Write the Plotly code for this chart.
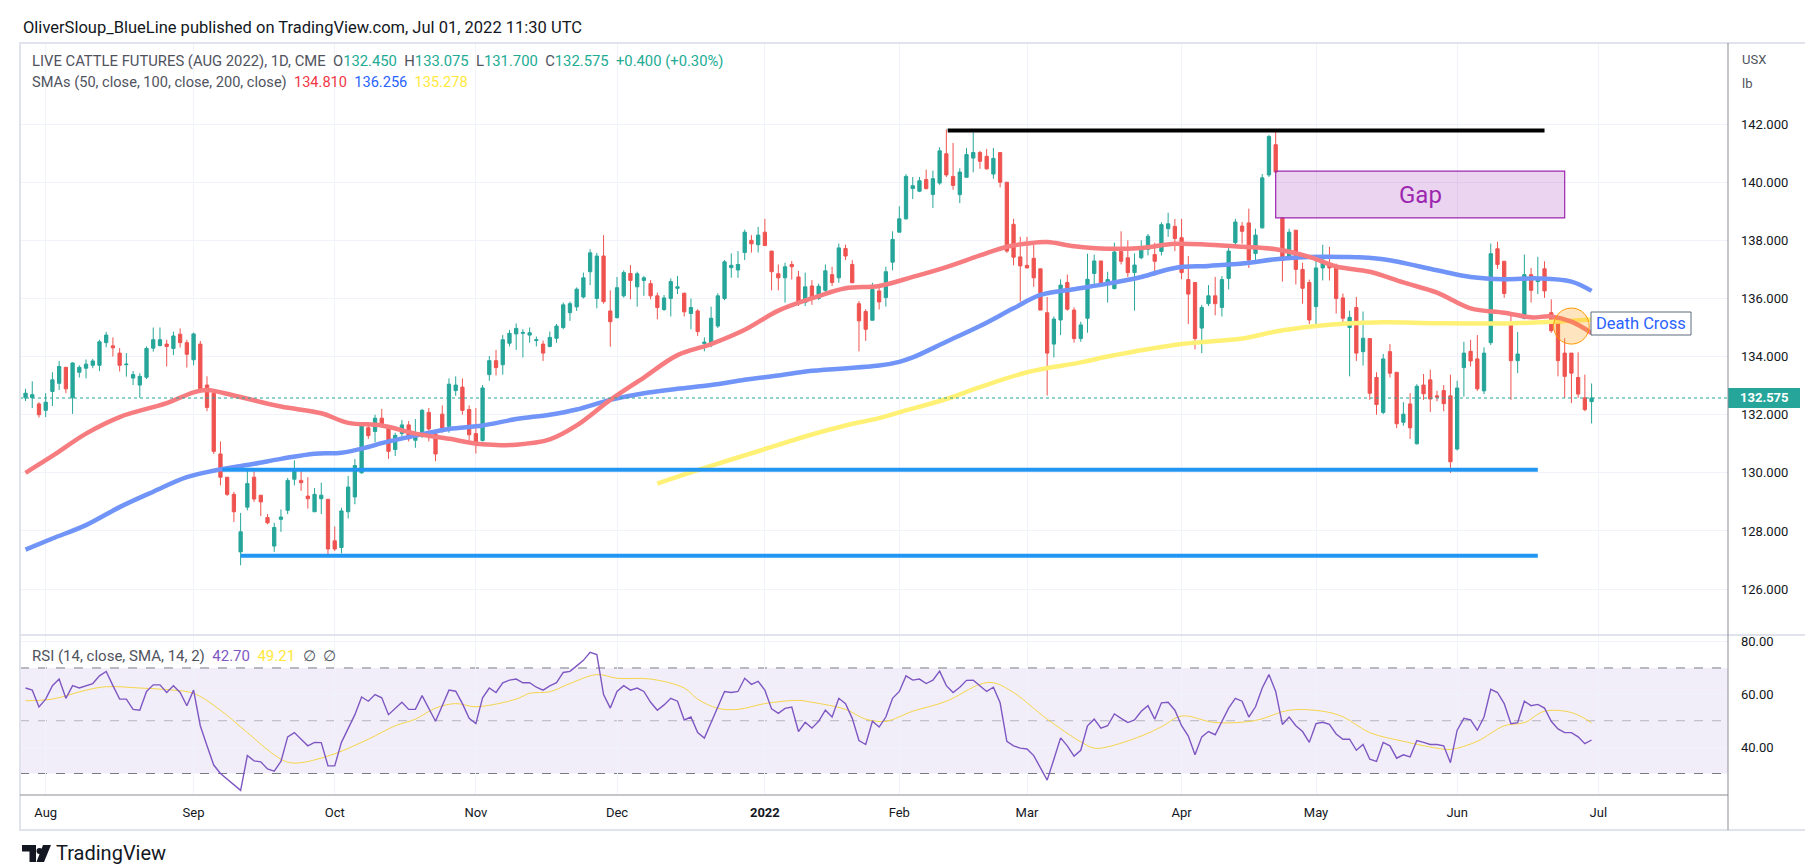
import pandas as pd
import plotly.graph_objects as go
from plotly.subplots import make_subplots

# ---------------- data ----------------
holidays = ["2021-09-06", "2021-11-25", "2021-12-24", "2022-01-17",
            "2022-02-21", "2022-04-15", "2022-05-30", "2022-06-20"]
calendar = pd.bdate_range("2021-07-28", "2022-07-01", freq="C", holidays=holidays)

opens = [132.58,132.58,132.37,132.15,132.80,133.08,133.63,132.58,133.46,133.60,
133.70,133.70,134.48,134.37,134.12,133.72,133.26,133.02,133.29,134.29,
134.38,134.43,134.28,134.77,134.48,133.89,134.43,133.02,132.74,130.65,
129.85,129.26,127.28,128.82,129.85,129.23,128.46,127.48,128.40,128.71,
129.78,129.74,129.20,128.66,129.11,129.09,127.66,127.43,128.66,129.17,
130.00,131.55,131.42,131.88,131.57,130.80,131.35,131.65,131.12,131.28,
132.08,131.34,132.02,131.60,132.83,132.95,132.18,131.35,131.11,133.38,
133.86,133.72,134.46,134.78,134.80,134.74,134.55,134.43,134.35,134.63,
135.00,135.51,135.71,136.05,136.92,136.00,137.46,135.57,135.34,136.09,
136.86,136.40,136.62,136.51,136.09,135.62,136.00,136.35,136.18,135.48,
135.57,134.45,134.43,135.05,136.00,137.06,136.98,137.58,138.00,137.85,
138.28,137.63,136.85,136.71,137.17,136.74,135.86,136.43,136.00,136.28,
136.82,136.71,137.72,137.17,135.82,135.55,135.25,136.26,136.03,137.25,
138.28,138.74,139.78,139.69,140.09,139.58,139.97,140.98,140.20,139.57,
140.17,140.83,141.02,140.89,140.28,141.02,140.00,138.55,137.43,137.14,
137.38,137.02,135.51,134.43,135.26,136.55,135.60,134.62,135.32,136.86,
137.29,136.54,136.34,137.62,137.40,136.89,137.40,137.69,137.51,137.62,
138.40,138.48,138.09,136.65,136.55,134.98,135.82,136.09,135.69,136.69,
137.92,138.49,138.60,137.55,138.43,140.25,141.29,138.77,137.46,138.35,
137.00,136.55,135.72,137.05,137.17,137.12,136.02,135.00,135.69,134.17,
134.62,133.28,132.08,134.17,133.46,131.74,132.37,131.00,133.02,133.20,
132.65,132.83,132.65,130.82,133.62,134.18,133.92,132.82,134.48,137.71,
137.28,135.17,133.86,135.31,136.82,136.58,137.02,135.51,135.38,134.12,
134.12,133.28,132.58,132.45]

highs = [132.89,133.15,132.43,132.74,133.46,133.85,133.65,133.80,133.70,133.90,
133.92,134.58,134.85,134.66,134.29,134.12,133.50,133.43,134.35,135.00,
135.00,134.58,134.86,134.97,134.58,134.82,134.54,133.32,132.82,131.08,
129.85,129.35,128.62,130.15,130.05,129.23,128.58,128.28,128.74,129.82,
130.43,130.09,129.85,129.48,129.66,129.09,128.15,128.80,129.89,130.48,
131.71,131.74,132.00,132.20,131.57,131.38,131.82,131.78,131.85,132.20,
132.23,131.46,132.32,133.25,133.32,133.25,132.32,132.23,133.02,134.02,
134.23,134.74,134.92,135.14,134.94,135.00,134.69,134.55,134.86,135.12,
135.86,135.89,136.38,136.89,137.69,137.57,138.18,136.28,136.74,136.97,
137.15,136.92,136.77,136.63,136.20,136.12,136.69,136.77,136.20,136.00,
135.63,134.66,135.72,136.18,137.32,137.55,137.63,138.37,138.18,138.46,
138.74,137.63,137.17,137.23,137.29,136.95,136.89,136.63,136.51,137.17,
137.09,137.89,137.85,137.32,135.91,135.63,136.54,136.43,137.09,138.31,
139.17,140.28,140.18,140.18,140.43,140.40,141.20,141.82,141.35,140.48,
141.18,141.72,141.08,141.14,141.18,141.02,140.00,138.74,138.12,138.12,
137.85,137.02,136.05,135.38,136.66,136.82,135.69,135.20,137.54,137.51,
137.29,136.92,137.92,138.31,138.00,137.55,138.00,138.22,137.92,138.62,
138.95,138.74,138.74,137.46,136.55,135.78,136.46,136.74,136.77,137.85,
138.74,138.63,139.09,138.40,140.28,141.63,141.74,138.77,138.40,138.35,
137.23,136.65,137.35,137.85,137.78,137.20,136.17,135.58,136.05,135.55,
134.62,133.46,134.09,134.43,133.46,132.43,132.74,133.05,133.40,133.55,
132.82,133.02,133.38,133.17,134.51,134.58,134.74,134.32,137.89,137.95,
137.28,135.43,134.85,137.51,137.05,137.43,137.28,135.97,135.38,134.63,
134.12,134.15,133.38,133.075]

lows = [132.47,132.23,131.90,131.92,132.30,132.85,132.74,132.03,133.28,133.25,
133.60,133.50,134.32,134.00,133.49,133.31,133.02,132.58,133.23,134.17,
134.35,133.66,134.05,134.31,133.62,133.70,132.85,132.12,130.65,129.57,
129.20,128.31,126.82,128.71,129.00,128.51,128.23,127.28,127.97,128.58,
129.57,129.38,128.77,128.66,128.58,127.20,127.31,127.23,128.43,128.92,
129.97,131.17,131.05,131.55,130.48,130.58,131.17,131.08,130.86,131.20,
131.08,130.40,131.38,131.38,132.65,132.00,131.11,130.66,131.08,133.17,
133.35,133.38,134.35,134.23,133.97,134.48,134.35,133.85,134.32,134.48,
134.94,135.23,135.57,136.00,136.46,135.66,135.82,134.34,135.31,136.03,
135.97,135.72,136.09,135.97,135.28,135.57,135.38,136.15,135.38,134.94,
134.71,134.18,134.32,134.98,135.94,136.71,136.71,137.32,137.58,137.58,
137.82,136.28,136.28,135.86,136.65,135.74,135.74,135.78,135.95,136.20,
136.43,136.54,137.32,136.54,134.18,134.54,135.25,135.62,135.72,136.97,
138.28,138.71,139.42,139.66,139.75,139.11,139.91,140.18,139.74,139.28,
140.17,140.34,140.46,140.43,140.12,139.82,137.57,137.14,135.89,137.05,
136.40,135.60,132.66,133.97,134.74,135.58,134.48,134.51,134.82,136.43,
136.43,135.86,136.31,137.17,136.74,135.58,137.35,137.48,136.78,137.48,
138.12,137.63,136.66,135.12,134.25,134.12,135.74,135.42,135.38,136.31,
137.82,137.88,137.05,137.32,138.40,140.18,140.31,136.58,137.32,136.48,
135.82,135.12,135.05,136.62,136.62,135.48,135.09,133.32,133.85,133.69,
132.51,132.00,132.02,133.28,131.54,131.62,131.17,130.97,132.51,132.09,
132.46,132.12,130.00,130.77,132.62,133.66,132.82,132.71,134.40,137.02,
136.02,132.51,133.43,135.28,135.86,136.15,136.02,134.82,133.32,132.58,
132.40,132.58,132.12,131.70]

closes = [132.74,132.69,132.00,132.43,133.20,133.66,132.89,133.78,133.63,133.74,
133.85,134.51,134.74,134.30,133.70,133.74,133.38,133.32,134.28,134.58,
134.58,134.35,134.71,134.48,134.08,134.78,132.89,132.25,130.74,129.85,
129.26,128.66,127.97,129.63,129.10,129.00,128.28,128.12,128.48,129.74,
130.09,129.66,129.11,129.26,129.23,127.38,127.38,128.69,129.51,130.25,
131.66,131.28,131.88,131.69,130.74,131.29,131.65,131.17,131.22,132.15,
131.51,130.65,131.54,133.05,133.02,132.15,131.31,130.97,132.92,133.86,
133.62,134.58,134.80,134.97,134.83,134.82,134.58,134.12,134.66,135.05,
135.78,135.82,136.32,136.71,137.57,137.46,135.89,135.20,136.37,136.89,
136.62,136.85,136.71,136.09,135.69,136.02,136.58,136.40,135.54,135.69,
134.86,134.50,135.32,136.09,137.26,137.14,137.17,138.28,137.88,138.18,
137.82,136.92,136.71,137.09,137.09,135.82,136.40,136.00,136.42,136.95,
136.55,137.74,137.46,136.54,135.23,134.94,136.31,135.88,136.92,138.03,
138.74,140.20,139.88,140.05,139.78,140.12,141.08,140.25,139.89,140.35,
140.95,141.02,140.72,140.46,140.82,140.00,137.63,137.42,137.12,137.05,
136.71,135.60,134.12,135.29,136.46,135.63,134.62,135.09,136.66,137.29,
136.46,136.65,137.60,137.28,136.89,137.15,137.71,138.14,137.28,138.54,
138.57,138.06,136.89,136.15,134.62,135.69,136.09,135.82,136.65,137.63,
138.63,138.31,137.32,138.18,140.15,141.57,140.35,137.31,138.28,137.00,
136.35,135.26,137.05,137.32,137.05,136.00,135.32,135.35,134.12,134.63,
132.74,132.35,133.92,133.43,131.69,132.02,131.55,132.98,132.72,132.54,
132.60,132.38,130.38,132.92,134.12,133.85,132.89,134.12,137.54,137.17,
136.17,133.86,134.09,136.82,136.28,136.63,136.26,134.89,133.86,133.32,
133.43,132.71,132.175,132.575]

rsi = [62.4,61.6,55.2,58.2,63.3,65.8,58.5,63.3,62.4,63.3,
64.1,67.0,68.7,63.3,58.2,58.2,54.3,54.0,61.1,63.6,
63.6,60.7,63.3,60.7,55.7,61.6,48.1,40.5,33.2,30.0,
27.8,25.8,23.6,36.8,34.8,34.4,31.7,30.9,34.6,43.9,
45.5,43.0,40.5,41.8,41.7,32.9,32.9,41.8,47.2,52.3,
59.0,57.4,59.9,58.7,52.3,54.8,57.0,54.3,54.3,59.5,
54.8,49.8,55.7,61.6,61.2,56.5,50.9,48.9,58.7,62.4,
60.7,64.4,65.4,65.8,64.4,64.4,62.7,61.6,63.2,
64.4,68.3,68.7,70.8,72.9,75.9,75.1,59.9,54.8,61.1,
63.3,61.6,62.4,61.1,57.0,54.0,56.0,58.5,57.4,50.3,
51.4,45.5,43.4,49.3,55.2,61.1,60.7,61.1,66.1,63.8,
64.9,61.6,54.5,52.8,54.7,55.2,45.9,49.4,47.2,
49.8,54.0,51.4,58.5,56.5,50.9,42.5,41.0,49.8,47.6,
51.4,58.5,61.1,67.0,65.4,65.8,64.1,65.4,68.8,63.3,
60.7,62.7,65.3,65.4,63.3,61.1,62.7,56.8,42.2,40.5,
39.6,39.3,36.8,32.1,27.5,35.4,43.5,40.5,36.6,
38.8,48.1,50.6,47.2,48.1,52.6,50.9,49.3,50.3,53.6,
55.7,50.6,56.8,57.0,54.0,48.1,44.2,37.1,43.9,45.9,
44.7,49.8,54.8,58.5,57.4,51.4,55.3,62.4,67.5,61.1,
48.6,51.4,48.1,45.9,41.8,48.9,49.4,48.6,45.0,
43.0,43.0,38.8,41.0,35.4,34.6,41.8,40.5,35.8,37.1,
36.3,42.5,41.8,41.0,41.0,40.5,34.1,46.4,50.9,50.3,
46.4,51.4,61.9,60.7,56.5,48.9,49.3,57.4,55.7,56.2,
54.8,49.8,46.9,45.5,45.5,43.9,41.3,42.7]

# moving averages sampled at bar numbers (bar 0 = first candle)
sma50_bar = [0,4,9,14,21,25,27,31,38,44,48,53,58,63,68,73,78,82,87,92,97,102,107,112,118,
             122,127,132,137,142,146,149,152,156,161,166,171,176,181,186,191,195,200,205,
             210,215,220,224,227,230,233]
sma50_val = [130.0,130.58,131.35,131.92,132.4,132.77,132.85,132.66,132.28,132.05,131.72,131.63,
             131.35,131.17,130.98,130.97,131.15,131.63,132.51,133.28,134.05,134.43,134.92,135.58,
             136.08,136.35,136.43,136.74,137.08,137.48,137.78,137.89,137.94,137.8,137.71,137.74,
             137.88,137.85,137.78,137.69,137.43,137.1,136.92,136.55,136.2,135.66,135.51,135.35,
             135.38,135.2,134.81]
sma100_bar = [0,4,9,14,19,24,29,34,38,43,47,51,53,58,63,68,73,78,82,87,92,97,102,107,112,117,
              127,130,132,137,142,147,151,156,161,166,171,176,181,186,191,196,202,210,215,220,
              225,230,233]
sma100_val = [127.36,127.74,128.2,128.82,129.35,129.85,130.12,130.31,130.48,130.66,130.69,130.89,
              131.02,131.28,131.51,131.63,131.85,132.0,132.18,132.51,132.74,132.89,133.02,133.2,
              133.35,133.51,133.69,133.82,133.97,134.51,135.05,135.66,136.12,136.32,136.51,136.74,
              137.05,137.12,137.2,137.35,137.43,137.43,137.35,136.97,136.74,136.66,136.69,136.58,
              136.26]
sma200_bar = [94,100,110,117,122,127,130,137,142,149,157,161,172,181,186,192,196,202,210,220,227,233]
sma200_val = [129.63,130.09,130.82,131.32,131.63,131.88,132.08,132.54,132.95,133.46,133.8,134.0,
              134.43,134.62,134.86,135.05,135.13,135.18,135.15,135.14,135.2,135.278]
rsi_ma_bar = [0,4,9,12,17,22,25,29,33,37,39,41,46,51,55,58,61,64,67,73,75,78,81,85,88,93,98,100,
              103,106,110,115,117,122,125,128,132,137,142,144,147,152,157,159,161,166,169,172,
              177,183,188,193,196,200,205,210,212,216,220,223,226,230,233]
rsi_ma_val = [57.6,58.2,61.6,62.9,62.4,61.6,60.4,54.0,45.5,37.1,34.3,34.1,37.5,43.0,48.1,50.6,
              54.8,56.5,55.3,58.2,60.4,61.0,64.1,67.5,66.1,65.8,62.4,58.2,54.7,54.3,56.5,57.7,
              57.0,54.3,50.6,49.8,53.6,57.4,63.8,64.4,60.7,50.6,42.0,39.6,40.1,44.2,47.7,51.8,
              49.3,50.1,54.0,53.6,51.5,45.5,42.2,39.6,39.1,42.2,48.1,49.3,53.6,53.1,49.21]

# drawings on the chart (bar numbers / prices)
resistance = dict(bar0=137.2, bar1=226.0, price=141.78)
support_hi = dict(bar0=29.3, bar1=225.0, price=130.11)
support_lo = dict(bar0=32.0, bar1=225.0, price=127.15)
gap_zone = dict(bar0=186.0, bar1=229.0, low=138.77, high=140.38)
death_cross = dict(bar=230.0, price=135.05)
last_price = 132.575

price_ticks = [126, 128, 130, 132, 134, 136, 138, 140, 142]
rsi_ticks = [40, 60, 80]

# ---------------- figure ----------------
n = len(closes)
bars = list(range(n))
dates = calendar[:n]
tick_bars, tick_text = [], []
for k in range(1, len(calendar)):
    if calendar[k].month != calendar[k - 1].month:
        tick_bars.append(k)
        lab = calendar[k].strftime("%b")
        if calendar[k].month == 1:
            lab = "<b>%d</b>" % calendar[k].year
        tick_text.append(lab)

W, H = 1813, 866
L, R, T, B = 12, 1720, 35, 787
SPLIT = 627


def PX(px):
    return (px - L) / (R - L)


def PY(py):
    return (B - py) / (B - T)


fig = make_subplots(rows=2, cols=1, shared_xaxes=True, vertical_spacing=0)

fig.add_trace(go.Scatter(x=sma200_bar, y=sma200_val, mode="lines", line=dict(color="#fff176", width=4.5, shape="spline"), hoverinfo="skip"), row=1, col=1)
fig.add_trace(go.Scatter(x=sma100_bar, y=sma100_val, mode="lines", line=dict(color="#7094f7", width=4.5, shape="spline"), hoverinfo="skip"), row=1, col=1)
fig.add_trace(go.Scatter(x=sma50_bar, y=sma50_val, mode="lines", line=dict(color="#f77c80", width=4.5, shape="spline"), hoverinfo="skip"), row=1, col=1)

fig.add_trace(go.Candlestick(
    x=bars, open=opens, high=highs, low=lows, close=closes,
    increasing=dict(line=dict(color="#26a69a", width=1), fillcolor="#26a69a"),
    decreasing=dict(line=dict(color="#ef5350", width=1), fillcolor="#ef5350"),
    whiskerwidth=0, hoverinfo="skip"), row=1, col=1)

fig.add_trace(go.Scatter(x=rsi_ma_bar, y=rsi_ma_val, mode="lines", line=dict(color="#f5d54a", width=1, shape="spline"), hoverinfo="skip"), row=2, col=1)
fig.add_trace(go.Scatter(x=bars, y=rsi, mode="lines", line=dict(color="#7e57c2", width=1.4), hoverinfo="skip"), row=2, col=1)

xr = [(L - 17.54) / 6.7212, (R - 17.54) / 6.7212]
grid = "#f0f3fa"
font_family = "Roboto"

fig.update_layout(
    width=W, height=H, autosize=False,
    margin=dict(l=L, r=W - R, t=T, b=H - B, pad=0),
    paper_bgcolor="white", plot_bgcolor="white",
    showlegend=False, hovermode=False, dragmode=False,
    font=dict(family=font_family, color="#131722", size=13),
)
dom_split = PY(SPLIT)
fig.update_layout(
    xaxis=dict(range=xr, tickvals=tick_bars, showticklabels=False, showgrid=True, gridcolor=grid,
               zeroline=False, rangeslider=dict(visible=False), fixedrange=True),
    xaxis2=dict(range=xr, tickvals=tick_bars, ticktext=tick_text, showgrid=True, gridcolor=grid,
                zeroline=False, showline=False, ticks="", ticklabelstandoff=8,
                tickfont=dict(size=13, color="#131722"), fixedrange=True),
    yaxis=dict(domain=[dom_split, 1], side="right", range=[124.42, 144.79], tickvals=price_ticks,
               tickformat=".3f", showgrid=True, gridcolor=grid, zeroline=False, showline=False,
               ticks="", ticklabelstandoff=12, tickfont=dict(size=13, color="#131722"), fixedrange=True),
    yaxis2=dict(domain=[0, dom_split], side="right", range=[21.85, 82.5], tickvals=rsi_ticks,
                tickformat=".2f", showgrid=True, gridcolor=grid, zeroline=False, showline=False,
                ticks="", ticklabelstandoff=12, tickfont=dict(size=13, color="#131722"), fixedrange=True),
)

shapes = []
# RSI band and levels
shapes.append(dict(type="rect", xref="paper", yref="y2", x0=0, x1=1, y0=30, y1=70,
                   fillcolor="rgba(126,87,194,0.1)", line=dict(width=0), layer="below"))
for lvl, col in [(70, "#787b86"), (50, "rgba(120,123,134,0.5)"), (30, "#787b86")]:
    shapes.append(dict(type="line", xref="paper", yref="y2", x0=0, x1=1, y0=lvl, y1=lvl,
                       line=dict(color=col, width=1, dash="dash"), layer="below"))
# last price dotted line
shapes.append(dict(type="line", xref="paper", yref="y", x0=0, x1=1, y0=last_price, y1=last_price,
                   line=dict(color="#26a69a", width=1, dash="dot")))
# drawings
for ln, col in [(resistance, "#000000"), (support_hi, "#2196f3"), (support_lo, "#2196f3")]:
    shapes.append(dict(type="line", xref="x", yref="y", x0=ln["bar0"], x1=ln["bar1"],
                       y0=ln["price"], y1=ln["price"], line=dict(color=col, width=4)))
shapes.append(dict(type="rect", xref="x", yref="y", x0=gap_zone["bar0"], x1=gap_zone["bar1"],
                   y0=gap_zone["low"], y1=gap_zone["high"], fillcolor="rgba(156,39,176,0.2)",
                   line=dict(color="#9c27b0", width=1.2)))
shapes.append(dict(type="circle", xref="x", yref="y",
                   x0=death_cross["bar"] - 2.65, x1=death_cross["bar"] + 2.65,
                   y0=death_cross["price"] - 0.62, y1=death_cross["price"] + 0.62,
                   fillcolor="rgba(255,152,0,0.25)", line=dict(color="#ff9800", width=1)))
# Death cross label box
shapes.append(dict(type="rect", xref="paper", yref="paper", x0=PX(1583), x1=PX(1683), y0=PY(327), y1=PY(304),
                   fillcolor="white", line=dict(color="#5d6b7e", width=1)))
# price label box
yl = 390
shapes.append(dict(type="rect", xref="paper", yref="paper", x0=PX(1720), x1=PX(1792), y0=PY(yl + 10), y1=PY(yl - 10),
                   fillcolor="#26a69a", line=dict(width=0)))
# frame, separators, axis lines
shapes.append(dict(type="rect", xref="paper", yref="paper", x0=PX(12), x1=PX(1805), y0=PY(822), y1=PY(35),
                   line=dict(color="#e0e3eb", width=2), layer="above"))
shapes.append(dict(type="line", xref="paper", yref="paper", x0=PX(12), x1=PX(1805), y0=PY(SPLIT), y1=PY(SPLIT),
                   line=dict(color="#e0e3eb", width=2)))
shapes.append(dict(type="line", xref="paper", yref="paper", x0=PX(12), x1=PX(R), y0=PY(B), y1=PY(B),
                   line=dict(color="#8a8d96", width=1)))
shapes.append(dict(type="line", xref="paper", yref="paper", x0=PX(R), x1=PX(R), y0=PY(822), y1=PY(35),
                   line=dict(color="#8a8d96", width=1)))
# TradingView logo
shapes.append(dict(type="path", xref="paper", yref="paper",
                   path="M %f %f L %f %f L %f %f L %f %f L %f %f L %f %f Z" % (
                       PX(14), PY(837), PX(28), PY(837), PX(28), PY(854), PX(21.5), PY(854),
                       PX(21.5), PY(843.5), PX(14), PY(843.5)),
                   fillcolor="#131722", line=dict(width=0)))
shapes.append(dict(type="circle", xref="paper", yref="paper", x0=PX(28.5), x1=PX(34.5), y0=PY(846), y1=PY(840),
                   fillcolor="#131722", line=dict(width=0)))
shapes.append(dict(type="path", xref="paper", yref="paper",
                   path="M %f %f L %f %f L %f %f L %f %f Z" % (
                       PX(35), PY(837), PX(43), PY(837), PX(36), PY(854), PX(28.5), PY(854)),
                   fillcolor="#131722", line=dict(width=0)))
fig.update_layout(shapes=shapes)

sp = "\u00a0"
teal = "#22ab94"
hdr1 = ("LIVE CATTLE FUTURES (AUG 2022), 1D, CME" + sp * 2 +
        "O<span style='color:%s'>132.450</span>" % teal + sp * 2 +
        "H<span style='color:%s'>133.075</span>" % teal + sp * 2 +
        "L<span style='color:%s'>131.700</span>" % teal + sp * 2 +
        "C<span style='color:%s'>132.575</span>" % teal + sp * 2 +
        "<span style='color:%s'>+0.400 (+0.30%%)</span>" % teal)
hdr2 = ("SMAs (50, close, 100, close, 200, close)" + sp * 2 +
        "<span style='color:#f23645'>134.810</span>" + sp * 2 +
        "<span style='color:#2962ff'>136.256</span>" + sp * 2 +
        "<span style='color:#ffe83b'>135.278</span>")
hdr3 = ("RSI (14, close, SMA, 14, 2)" + sp * 2 +
        "<span style='color:#7e57c2'>42.70</span>" + sp * 2 +
        "<span style='color:#ffe83b'>49.21</span>" + sp * 2 + "∅" + sp * 2 + "∅")

ann = []
def text(px, py, s, size=14, color="#131722", xanchor="left", **kw):
    ann.append(dict(x=PX(px), y=PY(py), xref="paper", yref="paper", text=s, showarrow=False,
                    xanchor=xanchor, yanchor="middle", font=dict(size=size, color=color, family=font_family), **kw))

text(13, 19, "OliverSloup_BlueLine published on TradingView.com, Jul 01, 2022 11:30 UTC", size=16.5)
text(22, 53, hdr1, size=14.8, color="#50535e")
text(22, 74, hdr2, size=14.6, color="#50535e")
text(22, 648, hdr3, size=15, color="#50535e")
text(1732, 51, "USX", size=13, color="#50535e")
text(1732, 75, "lb", size=13, color="#50535e")
text(1756, yl, "<b>132.575</b>", size=13, color="white", xanchor="center")
text(1633, 315.5, "Death Cross", size=16.5, color="#2962ff", xanchor="center")
text(46, 845, "TradingView", size=20, color="#131722")
ann.append(dict(x=(gap_zone["bar0"] + gap_zone["bar1"]) / 2, y=(gap_zone["low"] + gap_zone["high"]) / 2,
                xref="x", yref="y", text="Gap", showarrow=False, xanchor="center", yanchor="middle",
                font=dict(size=24, color="#9c27b0", family=font_family)))
fig.update_layout(annotations=ann)

fig.write_html("out.html", include_plotlyjs=True, config={"displayModeBar": False, "staticPlot": True})
